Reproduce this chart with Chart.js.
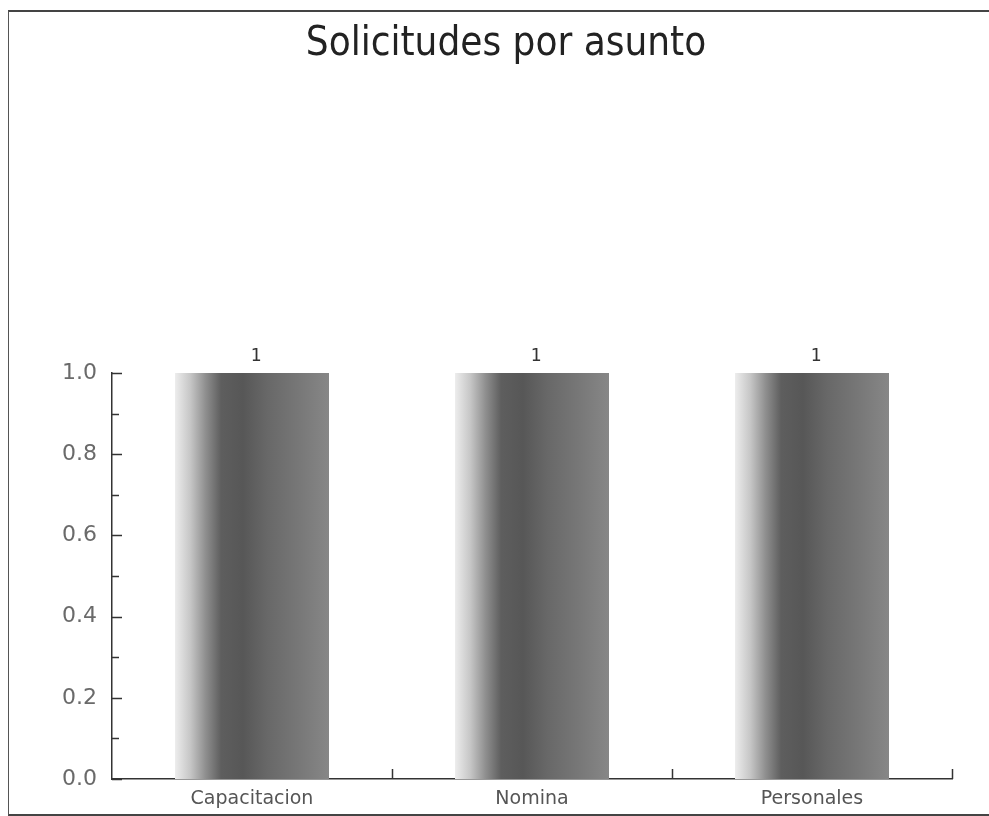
<!DOCTYPE html>
<html>
<head>
<meta charset="utf-8">
<script src="https://cdn.jsdelivr.net/npm/chart.js@4"></script>
<style>
  html, body { margin: 0; padding: 0; background: #ffffff; }
  #wrap { position: relative; width: 989px; height: 816px; overflow: hidden; }
  #frame { position: absolute; left: 8px; top: 10px; width: 1000px; height: 802px;
           border-left: 1.5px solid #555; border-top: 2px solid #444; border-bottom: 2px solid #444; }
  canvas { position: absolute; left: 0; top: 0; }
</style>
</head>
<body>
<div id="wrap">
  <div id="frame"></div>
  <canvas id="c" width="989" height="816"></canvas>
</div>
<script>
const titleText = "Solicitudes por asunto";
const categories = ["Capacitacion", "Nomina", "Personales"];
const requestCounts = [1, 1, 1];
const yTickLabels = ["0.0", "0.2", "0.4", "0.6", "0.8", "1.0"];
const yMin = 0, yMax = 1.0, yStep = 0.2, yMinorStep = 0.1;

const BAR_PCT = 0.55;

function barGradient(context) {
  const chart = context.chart;
  const xs = chart.scales && chart.scales.x;
  if (!chart.chartArea || !xs) return "#777";
  const catW = (chart.chartArea.right - chart.chartArea.left) / categories.length;
  const w = catW * BAR_PCT;
  const cx = xs.getPixelForValue(context.dataIndex);
  const left = cx - w / 2;
  const g = chart.ctx.createLinearGradient(left, 0, left + w, 0);
  g.addColorStop(0.00, "#ededed");
  g.addColorStop(0.10, "#c6c6c6");
  g.addColorStop(0.20, "#8e8e8e");
  g.addColorStop(0.30, "#5e5e5e");
  g.addColorStop(0.44, "#575757");
  g.addColorStop(0.60, "#686868");
  g.addColorStop(0.80, "#777777");
  g.addColorStop(1.00, "#878787");
  return g;
}

const decorPlugin = {
  id: "decor",
  afterDatasetsDraw(chart) {
    const ctx = chart.ctx;
    const a = chart.chartArea;
    const x = chart.scales.x, y = chart.scales.y;
    ctx.save();
    ctx.strokeStyle = "#333";
    ctx.lineWidth = 1.5;
    // y ticks (inward)
    const nMinor = Math.round((yMax - yMin) / yMinorStep);
    for (let i = 0; i <= nMinor; i++) {
      const v = yMin + i * yMinorStep;
      const py = Math.round(y.getPixelForValue(v)) + 0.5;
      const len = (i % 2 === 0) ? 10 : 7;
      ctx.beginPath();
      ctx.moveTo(a.left, py);
      ctx.lineTo(a.left + len, py);
      ctx.stroke();
    }
    // x category boundary ticks (inward)
    const catW = (a.right - a.left) / categories.length;
    for (let i = 0; i < categories.length; i++) {
      const px = Math.round(x.getPixelForValue(i) + catW / 2) + 0.5;
      ctx.beginPath();
      ctx.moveTo(px, a.bottom);
      ctx.lineTo(px, a.bottom - 10);
      ctx.stroke();
    }
    // value labels above bars
    const meta = chart.getDatasetMeta(0);
    ctx.fillStyle = "#333";
    ctx.font = "18px 'DejaVu Sans Mono'";
    ctx.textAlign = "center";
    ctx.textBaseline = "middle";
    meta.data.forEach((el, i) => {
      ctx.fillText(String(requestCounts[i]), el.x + 4, el.y - 17);
    });
    ctx.restore();
  }
};

new Chart(document.getElementById("c"), {
  type: "bar",
  data: {
    labels: categories,
    datasets: [{
      data: requestCounts,
      backgroundColor: barGradient,
      borderWidth: 0,
      barPercentage: BAR_PCT,
      categoryPercentage: 1.0
    }]
  },
  options: {
    responsive: false,
    animation: false,
    devicePixelRatio: 1,
    layout: { padding: { left: 60, right: 37, top: 0, bottom: 0 } },
    plugins: {
      legend: { display: false },
      tooltip: { enabled: false },
      title: {
        display: true,
        text: titleText,
        color: "#222",
        font: { family: "DejaVu Sans Condensed", size: 40, weight: "normal", lineHeight: 1.2 },
        padding: { top: 21, bottom: 304 }
      }
    },
    scales: {
      x: {
        grid: { display: false, drawTicks: false },
        border: { display: true, color: "#333", width: 1.5 },
        ticks: {
          color: "#555",
          font: { family: "DejaVu Sans", size: 19 },
          padding: 9,
          maxRotation: 0
        },
        afterFit(scale) { scale.height = 37; }
      },
      y: {
        min: yMin,
        max: yMax,
        grid: { display: false, drawTicks: false },
        border: { display: true, color: "#333", width: 1.5 },
        ticks: {
          stepSize: yStep,
          color: "#6a6a6a",
          font: { family: "DejaVu Sans", size: 22 },
          padding: 15,
          callback: (v) => {
            const idx = Math.round(v / yStep);
            return yTickLabels[idx] !== undefined ? yTickLabels[idx] : "";
          }
        },
        afterFit(scale) { scale.width = 52; }
      }
    }
  },
  plugins: [decorPlugin]
});
</script>
</body>
</html>
